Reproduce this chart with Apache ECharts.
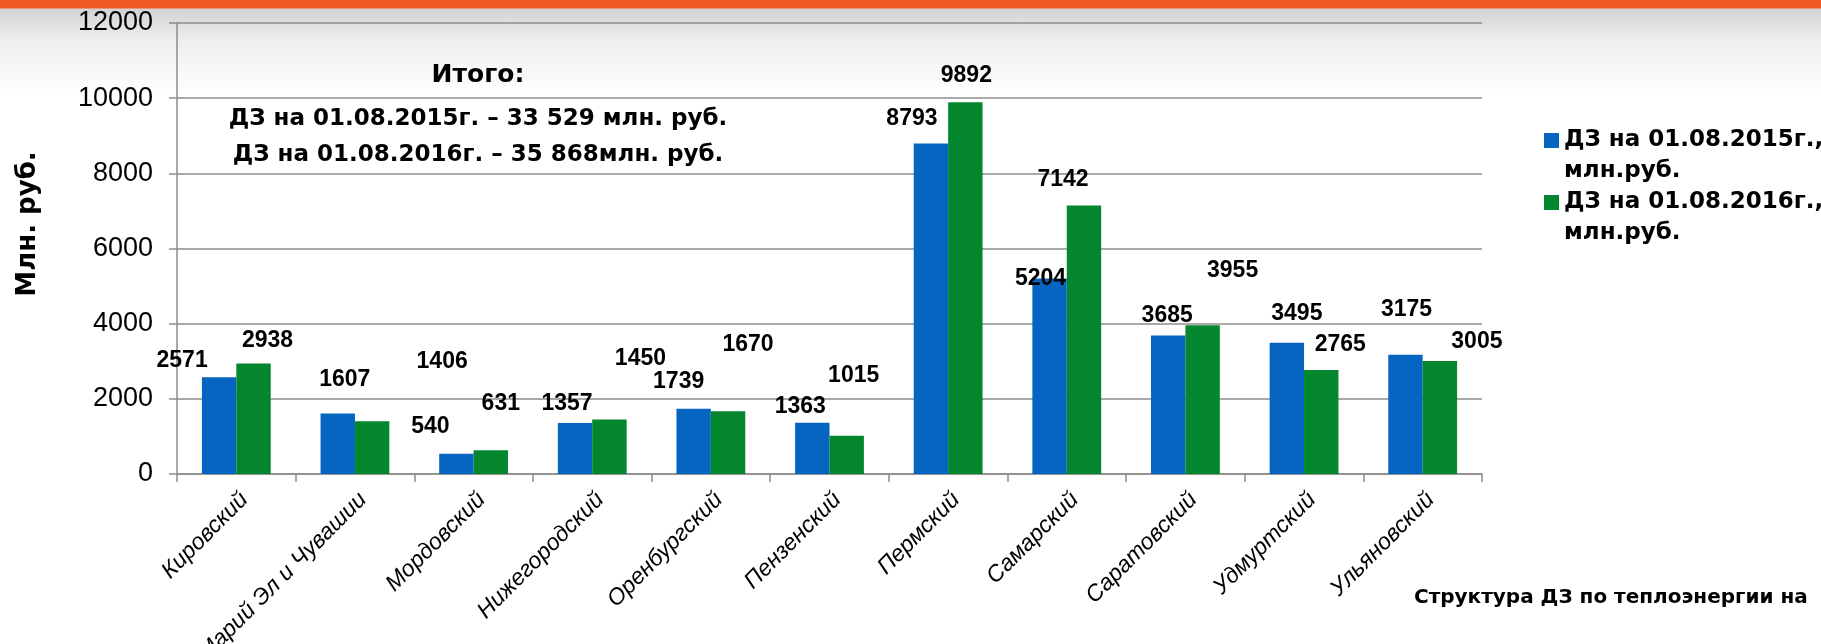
<!DOCTYPE html>
<html>
<head>
<meta charset="utf-8">
<script src="https://cdn.jsdelivr.net/npm/echarts@6/dist/echarts.min.js"></script>
<style>
  html, body { margin: 0; padding: 0; }
  #chart {
    width: 1821px;
    height: 644px;
    background: linear-gradient(to bottom, #f15a22 0px, #f15a22 8px, #d3d3d3 9px, #eeeeee 40px, #ffffff 95px);
  }
</style>
</head>
<body>
<div id="chart"></div>
<script>
// филиалы
var regions = ['Кировский', 'Марий Эл и Чувашии', 'Мордовский', 'Нижегородский', 'Оренбургский', 'Пензенский',
  'Пермский', 'Самарский', 'Саратовский', 'Удмуртский', 'Ульяновский']
var debt2015 = [2571, 1607, 540, 1357, 1739, 1363, 8793, 5204, 3685, 3495, 3175]
var debt2016 = [2938, 1406, 631, 1450, 1670, 1015, 9892, 7142, 3955, 2765, 3005]
var seriesNames = ['ДЗ на 01.08.2015г., млн.руб.', 'ДЗ на 01.08.2016г., млн.руб.']
var yTicks = [0, 2000, 4000, 6000, 8000, 10000, 12000]

// где стоят подписи значений (как в исходной диаграмме)
var offsets2015 = [[-37, 0], [7, -17], [-26, -11], [-8, -3], [-15, -10], [-12, 0], [-19, -8], [-9, 17], [-1, -3], [10, -12], [1, -29]]
var offsets2016 = [[14, -6], [70, -43], [10, -30], [31, -44], [20, -50], [7, -44], [1, -10], [-21, -9], [30, -38], [19, -9], [37, -3]]

var colors = ['#0565c0', '#03862e']
var font = 'Liberation Sans, Arial, sans-serif'
var wideFont = 'DejaVu Sans, Verdana, sans-serif'

function withOffsets(values, offsets) {
  return values.map(function(v, i) {
    return { value: v, label: { offset: offsets[i] } }
  })
}

var chart = echarts.init(document.getElementById('chart'), null, { renderer: 'canvas' })

var series = [debt2015, debt2016].map(function(values, i) {
  return {
    name: seriesNames[i],
    type: 'bar',
    data: withOffsets(values, i === 0 ? offsets2015 : offsets2016),
    barWidth: '29%',
    barGap: '0%',
    itemStyle: { color: colors[i] },
    label: {
      show: true,
      position: 'top',
      fontFamily: font,
      fontWeight: 'bold',
      fontSize: 23,
      color: '#000'
    }
  }
})

chart.setOption({
  animation: false,
  textStyle: { fontFamily: font },
  grid: {
    left: 177,
    right: 339,
    top: 23,
    bottom: 170,
    outerBoundsMode: 'none'
  },
  legend: {
    orient: 'vertical',
    left: 1539,
    top: 89,
    itemWidth: 15,
    itemHeight: 15,
    itemGap: -31,
    icon: 'rect',
    data: seriesNames,
    // пустая первая строка, чтобы квадрат стоял напротив первой строки текста
    formatter: function(name) {
      return '\n' + name.replace(', ', ',\n')
    },
    textStyle: {
      fontFamily: wideFont,
      fontWeight: 'bold',
      fontSize: 23,
      lineHeight: 31,
      color: '#000'
    }
  },
  xAxis: {
    type: 'category',
    data: regions,
    axisLine: { lineStyle: { color: '#8c8c8c', width: 1.5 } },
    axisTick: { show: true, length: 8, lineStyle: { color: '#8c8c8c', width: 1.5 } },
    axisLabel: {
      interval: 0,
      rotate: 45,
      margin: 14,
      verticalAlign: 'top',
      fontFamily: font,
      fontStyle: 'italic',
      fontSize: 23,
      color: '#000'
    }
  },
  yAxis: {
    type: 'value',
    min: yTicks[0],
    max: yTicks[yTicks.length - 1],
    interval: 2000,
    name: 'Млн. руб.',
    nameLocation: 'middle',
    nameGap: 136,
    nameTextStyle: { fontFamily: wideFont, fontWeight: 'bold', fontSize: 26, color: '#000', padding: [0, 0, 0, 49] },
    axisLine: { show: true, lineStyle: { color: '#8c8c8c', width: 1.5 } },
    axisTick: { show: true, length: 8, lineStyle: { color: '#8c8c8c', width: 1.5 } },
    axisLabel: {
      fontFamily: font,
      fontSize: 27,
      color: '#000',
      margin: 24,
      formatter: function(v) { return String(v) }
    },
    splitLine: { lineStyle: { color: '#8c8c8c', width: 1.5 } }
  },
  graphic: [
    {
      type: 'text', x: 478, y: 75,
      style: { text: 'Итого:', font: 'bold 25px ' + wideFont, fill: '#000', align: 'center', verticalAlign: 'middle' }
    },
    {
      type: 'text', x: 478, y: 119,
      style: { text: 'ДЗ на 01.08.2015г. – 33 529 млн. руб.', font: 'bold 23px ' + wideFont, fill: '#000', align: 'center', verticalAlign: 'middle' }
    },
    {
      type: 'text', x: 478, y: 155,
      style: { text: 'ДЗ на 01.08.2016г. – 35 868млн. руб.', font: 'bold 23px ' + wideFont, fill: '#000', align: 'center', verticalAlign: 'middle' }
    },
    {
      type: 'text', x: 1414, y: 598,
      style: { text: 'Структура ДЗ по теплоэнергии на', font: 'bold 20px ' + wideFont, fill: '#000', verticalAlign: 'middle' }
    }
  ],
  series: series
})
</script>
</body>
</html>
